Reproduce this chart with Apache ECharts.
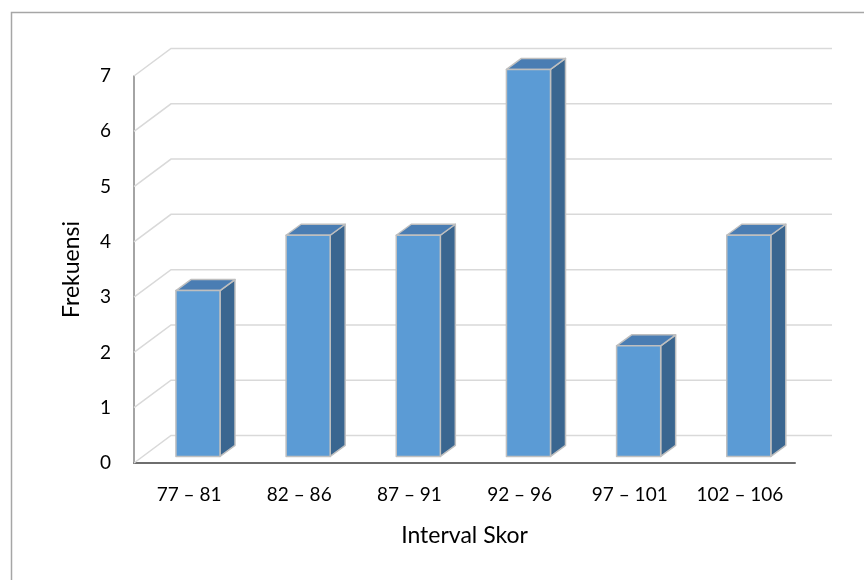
<!DOCTYPE html>
<html>
<head>
<meta charset="utf-8">
<script src="https://cdn.jsdelivr.net/npm/echarts@6/dist/echarts.min.js"></script>
<style>
  html, body { margin: 0; padding: 0; background: #fff; }
  #chart { width: 864px; height: 580px; }
</style>
</head>
<body>
<div id="chart"></div>
<script>
const categories = ["77 – 81", "82 – 86", "87 – 91", "92 – 96", "97 – 101", "102 – 106"];
const frekuensi = [3, 4, 4, 7, 2, 4];
const yTicks = [0, 1, 2, 3, 4, 5, 6, 7];

// depth of the back wall (px) and of the bars
const DEPTH_X = 37, DEPTH_Y = -27.5;
const FRONT = 0.24;          // bar front face, as part of depth
const BAR_DX = 15, BAR_DY = -11;

const chart = echarts.init(document.getElementById("chart"));
const font = "Lato, 'Open Sans', sans-serif";

function renderGrid(params, api) {
  const cs = params.coordSys;
  const y = api.coord([0, api.value(0)])[1];
  const x0 = cs.x, x1 = cs.x + cs.width;
  return {
    type: "polyline",
    shape: { points: [[x0, y], [x0 + DEPTH_X, y + DEPTH_Y], [x1 + DEPTH_X, y + DEPTH_Y]] },
    style: { stroke: "#d9d9d9", lineWidth: 1.5, fill: null },
    silent: true
  };
}

function renderBar(params, api) {
  const top = api.coord([api.value(0), api.value(1)]);
  const base = api.coord([api.value(0), 0]);
  const band = api.size([1, 0])[0];
  const w = band * 0.4;
  const ox = DEPTH_X * FRONT, oy = DEPTH_Y * FRONT;
  const L = top[0] - w / 2 + ox, R = top[0] + w / 2 + ox;
  const T = top[1] + oy, B = base[1] + oy;
  const stroke = { stroke: "#bfbfbf", lineWidth: 1.5, lineJoin: "round" };
  return {
    type: "group",
    children: [
      {
        type: "polygon",
        shape: { points: [[R, T], [R + BAR_DX, T + BAR_DY], [R + BAR_DX, B + BAR_DY], [R, B]] },
        style: Object.assign({ fill: "#3a6690" }, stroke)
      },
      {
        type: "polygon",
        shape: { points: [[L, T], [R, T], [R + BAR_DX, T + BAR_DY], [L + BAR_DX, T + BAR_DY]] },
        style: Object.assign({ fill: "#4a7db3" }, stroke)
      },
      {
        type: "rect",
        shape: { x: L, y: T, width: R - L, height: B - T },
        style: Object.assign({ fill: "#5b9bd5" }, stroke)
      }
    ]
  };
}

const option = {
  animation: false,
  backgroundColor: "#fff",
  graphic: [{
    type: "rect",
    shape: { x: 11.5, y: 12.5, width: 900, height: 600 },
    style: { fill: null, stroke: "#a6a6a6", lineWidth: 1.5 },
    silent: true
  }],
  grid: { left: 134, right: 69, top: 76, bottom: 117 },
  xAxis: {
    type: "category",
    data: categories,
    name: "Interval Skor",
    nameLocation: "middle",
    nameGap: 61,
    nameTextStyle: { fontFamily: font, fontSize: 23, color: "#000" },
    axisLine: { show: true, lineStyle: { color: "#6e6e6e", width: 2 } },
    axisTick: { show: false },
    axisLabel: { fontFamily: font, fontSize: 19, color: "#000", margin: 22, interval: 0 },
    splitLine: { show: false }
  },
  yAxis: {
    type: "value",
    min: 0,
    max: 7,
    interval: 1,
    name: "Frekuensi",
    nameLocation: "middle",
    nameGap: 51,
    nameTextStyle: { fontFamily: font, fontSize: 23, color: "#000" },
    axisLine: { show: true, lineStyle: { color: "#868686", width: 1.5 } },
    axisTick: { show: false },
    axisLabel: { fontFamily: font, fontSize: 19, color: "#000", margin: 23 },
    splitLine: { show: false }
  },
  series: [
    {
      type: "custom",
      name: "grid",
      data: yTicks.map(v => [v]),
      encode: { y: 0 },
      renderItem: renderGrid,
      z: 1,
      silent: true
    },
    {
      type: "custom",
      name: "Frekuensi",
      data: frekuensi.map((v, i) => [i, v]),
      encode: { x: 0, y: 1 },
      renderItem: renderBar,
      z: 3
    }
  ]
};

chart.setOption(option);
</script>
</body>
</html>
